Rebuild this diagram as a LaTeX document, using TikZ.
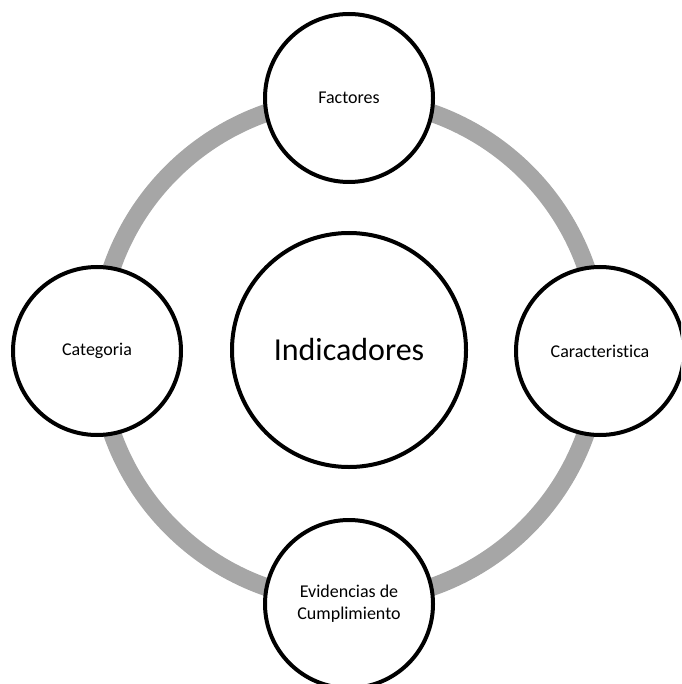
\documentclass[tikz,border=0pt]{standalone}
\usepackage{fontspec}
\setmainfont[Ligatures=NoCommon]{Carlito}
\begin{document}
\begin{tikzpicture}[x=1pt,y=-1pt,
  bub/.style={circle,draw=black,line width=4pt,fill=white,minimum size=168pt,inner sep=0pt,align=center,font=\fontsize{18}{22}\selectfont},
  hub/.style={circle,draw=black,line width=4pt,fill=white,minimum size=234pt,inner sep=0pt,font=\fontsize{32}{38}\selectfont}]
\useasboundingbox (0,0) rectangle (681,684);
\clip (0,0) rectangle (681,684);
\coordinate (c) at (349,350);
\draw[line width=18pt,color={rgb,255:red,166;green,166;blue,166}] (c) circle (251);
\node[hub] (ind) at (c) {Indicadores};
\node[bub] (fac) at (349,98) {Factores};
\node[bub] (car) at (600,351) {Caracteristica};
\node[bub] (cat) at (97,351) {Categoria};
\node[bub] (evi) at (349,604) {Evidencias de\\Cumplimiento};
\end{tikzpicture}
\end{document}
